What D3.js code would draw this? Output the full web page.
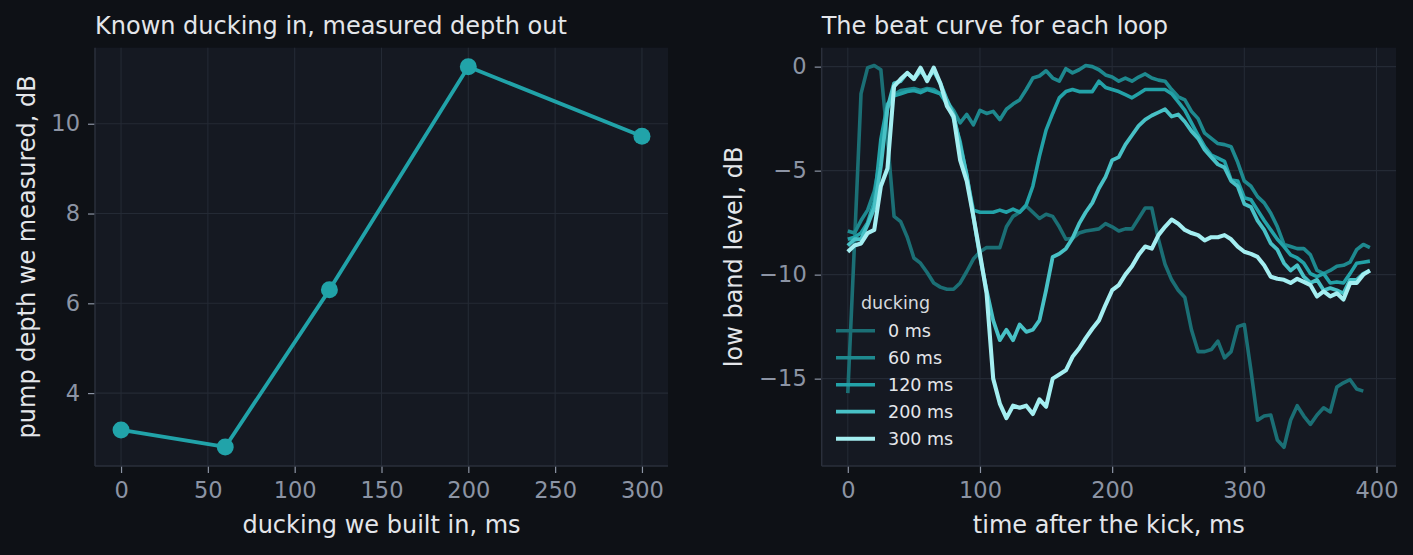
<!DOCTYPE html>
<html>
<head>
<meta charset="utf-8">
<script src="https://d3js.org/d3.v7.min.js"></script>
<style>
    html, body { margin: 0; padding: 0; background: #0e1116; }
    svg { display: block; font-family: "DejaVu Sans", sans-serif; }
</style>
</head>
<body>
<div id="chart"></div>
<script>
// left panel: ducking built in vs measured pump depth
var ducking = [0, 60, 120, 200, 300];
var depth = [3.18, 2.8, 6.3, 11.27, 9.72];

// right panel: time after kick (ms), one curve per loop
var timeMs = d3.range(0, 400, 5);
var loopLabels = ["0 ms", "60 ms", "120 ms", "200 ms", "300 ms"];
var curve0 = [-15.7, -8.6, -1.3, -0.05, 0.05, -0.15, -3.5, -7.2, -7.45, -8.2,
    -9.2, -9.45, -9.9, -10.4, -10.6, -10.7, -10.7, -10.4, -9.85, -9.25,
    -8.9, -8.7, -8.7, -8.7, -7.7, -7.2, -7.0, -6.7, -7.0, -7.3,
    -7.1, -7.2, -7.7, -8.3, -8.25, -8.0, -7.9, -7.85, -7.8, -7.55,
    -7.7, -7.9, -7.8, -7.8, -7.3, -6.8, -6.8, -8.3, -9.5, -10.25,
    -10.75, -11.1, -12.65, -13.7, -13.7, -13.6, -13.2, -14.0, -13.7, -12.5,
    -12.4, -14.6, -17.0, -16.8, -16.75, -17.95, -18.3, -17.0, -16.3, -16.8,
    -17.2, -16.75, -16.4, -16.6, -15.4, -15.2, -15.05, -15.5, -15.6, null];
var curve60 = [-7.9, -8.0, -7.4, -6.9, -6.0, -4.3, -2.0, -1.35, -1.15, -1.1,
    -1.05, -1.15, -1.05, -1.1, -1.3, -1.7, -2.1, -2.7, -2.3, -2.8,
    -2.1, -2.25, -2.15, -2.55, -2.05, -1.8, -1.6, -1.1, -0.55, -0.45,
    -0.2, -0.55, -0.7, -0.1, -0.3, -0.15, 0.05, 0.0, -0.15, -0.4,
    -0.5, -0.7, -0.55, -0.7, -0.5, -0.35, -0.55, -0.65, -0.7, -1.1,
    -1.45, -1.6, -2.15, -2.5, -3.2, -3.45, -3.7, -3.75, -3.85, -4.6,
    -5.5, -5.75, -6.25, -6.55, -7.05, -7.7, -8.55, -8.65, -8.75, -8.75,
    -9.05, -9.8, -9.95, -9.8, -9.6, -9.55, -9.4, -8.8, -8.55, -8.7];
var curve120 = [-8.3, -8.2, -8.0, -7.5, -6.5, -3.5, -1.8, -1.4, -1.3, -1.2,
    -1.15, -1.25, -1.1, -1.2, -1.3, -1.8, -2.5, -3.6, -5.3, -6.9,
    -7.0, -7.0, -7.0, -6.9, -7.0, -6.85, -7.0, -6.65, -5.75, -4.3,
    -3.05, -2.25, -1.5, -1.2, -1.1, -1.2, -1.2, -1.2, -0.7, -1.0,
    -1.1, -1.2, -1.35, -1.5, -1.3, -1.1, -1.1, -1.1, -1.1, -1.3,
    -1.7, -2.1, -2.7, -3.3, -3.85, -4.25, -4.4, -4.55, -5.45, -5.5,
    -6.3, -6.4, -6.9, -7.4, -7.85, -8.3, -8.65, -9.05, -9.2, -9.45,
    -9.95, -10.1, -9.95, -10.4, -10.35, -10.4, -9.95, -9.45, -9.4, -9.35];
var curve200 = [-8.6, -8.3, -8.3, -7.6, -6.8, -4.8, -2.0, -0.8, -0.7, -0.3,
    -0.6, -0.2, -0.6, -0.2, -0.8, -1.6, -2.3, -3.8, -5.2, -7.2,
    -9.15, -10.75, -12.2, -13.15, -12.65, -13.15, -12.4, -12.75, -12.65, -12.2,
    -10.75, -9.15, -9.0, -8.75, -8.25, -7.55, -7.0, -6.55, -5.85, -5.3,
    -4.5, -4.35, -3.75, -3.3, -2.85, -2.55, -2.35, -2.2, -2.05, -2.4,
    -2.3, -2.65, -3.1, -3.45, -4.0, -4.35, -4.7, -4.85, -5.5, -5.75,
    -6.6, -6.75, -7.4, -7.85, -8.5, -8.8, -9.45, -9.8, -9.55, -10.1,
    -10.4, -10.25, -10.75, -10.65, -10.75, -10.9, -10.25, -10.25, -9.95, -9.8];
var curve300 = [-8.9, -8.6, -8.5, -8.0, -7.85, -5.75, -4.9, -0.95, -0.6, -0.3,
    -0.6, -0.05, -0.7, -0.05, -0.8, -1.9, -2.4, -4.5, -5.5, -7.2,
    -9.0, -10.9, -15.0, -16.2, -16.9, -16.3, -16.4, -16.3, -16.7, -16.0,
    -16.35, -15.0, -14.8, -14.6, -13.95, -13.55, -13.05, -12.6, -12.2, -11.45,
    -10.75, -10.5, -10.0, -9.6, -9.05, -8.65, -8.75, -8.1, -7.7, -7.35,
    -7.55, -7.85, -8.0, -8.1, -8.35, -8.2, -8.2, -8.1, -8.3, -8.65,
    -8.9, -9.0, -9.15, -9.55, -10.1, -10.2, -10.25, -10.4, -10.2, -10.35,
    -10.5, -11.05, -10.8, -11.05, -10.9, -11.2, -10.4, -10.4, -10.0, -9.8];
var curves = [curve0, curve60, curve120, curve200, curve300];
var curveColors = ["#1b6f75", "#1e898f", "#23a2a8", "#48c1c6", "#a4eef1"];
var curveWidths = [3.6, 3.6, 3.6, 3.8, 4.1];

var W = 1413, H = 555;
var bgColor = "#0e1116", panelColor = "#151922", gridColor = "#242a35",
    spineColor = "#2a2f3b", tickColor = "#8c94a4", textColor = "#e4e6ea";

var svg = d3.select("#chart").append("svg")
    .attr("width", W).attr("height", H);
svg.append("rect").attr("width", W).attr("height", H).attr("fill", bgColor);

// sets up one axes box, returns the group and scales
function panel(box, xDomain, yDomain, xTicks, yTicks, title, xLabel, yLabel, yLabelX) {
    var w = box.right - box.left, h = box.bottom - box.top;
    var x = d3.scaleLinear().domain(xDomain).range([0, w]);
    var y = d3.scaleLinear().domain(yDomain).range([h, 0]);
    var g = svg.append("g").attr("transform", "translate(" + box.left + "," + box.top + ")");
    g.append("rect").attr("width", w).attr("height", h).attr("fill", panelColor);

    // grid
    g.append("g").selectAll("line").data(xTicks).enter().append("line")
        .attr("x1", function (d) { return x(d); }).attr("x2", function (d) { return x(d); })
        .attr("y1", 0).attr("y2", h)
        .attr("stroke", gridColor).attr("stroke-width", 1.1);
    g.append("g").selectAll("line").data(yTicks).enter().append("line")
        .attr("y1", function (d) { return y(d); }).attr("y2", function (d) { return y(d); })
        .attr("x1", 0).attr("x2", w)
        .attr("stroke", gridColor).attr("stroke-width", 1.1);

    // axes
    var xa = g.append("g").attr("transform", "translate(0," + h + ")")
        .call(d3.axisBottom(x).tickValues(xTicks).tickSize(7).tickPadding(9));
    var ya = g.append("g")
        .call(d3.axisLeft(y).tickValues(yTicks).tickSize(7).tickPadding(8));
    [xa, ya].forEach(function (a) {
        a.select(".domain").remove();
        a.selectAll(".tick line").attr("stroke", tickColor).attr("stroke-width", 1.2);
        a.selectAll(".tick text").attr("fill", tickColor)
            .style("font-size", "22.5px").style("font-family", "DejaVu Sans");
    });

    // left and bottom spines
    g.append("line").attr("x1", 0).attr("x2", 0).attr("y1", 0).attr("y2", h)
        .attr("stroke", spineColor).attr("stroke-width", 1.5);
    g.append("line").attr("x1", 0).attr("x2", w).attr("y1", h).attr("y2", h)
        .attr("stroke", spineColor).attr("stroke-width", 1.5);

    svg.append("text").attr("x", box.left).attr("y", 34)
        .attr("fill", textColor).style("font-size", "24px").text(title);
    svg.append("text").attr("x", box.left + w / 2).attr("y", 533)
        .attr("text-anchor", "middle").attr("fill", textColor)
        .style("font-size", "24px").text(xLabel);
    svg.append("text")
        .attr("transform", "translate(" + yLabelX + "," + (box.top + h / 2) + ") rotate(-90)")
        .attr("text-anchor", "middle").attr("fill", textColor)
        .style("font-size", "24px").text(yLabel);

    return { g: g, x: x, y: y };
}

// ---- left panel
var left = panel({ left: 95, right: 668, top: 47.7, bottom: 466 },
    [-15, 315], [2.376, 11.694],
    [0, 50, 100, 150, 200, 250, 300], [4, 6, 8, 10],
    "Known ducking in, measured depth out",
    "ducking we built in, ms", "pump depth we measured, dB", 35);

var depthPts = ducking.map(function (d, i) { return [d, depth[i]]; });
left.g.append("path")
    .datum(depthPts)
    .attr("fill", "none")
    .attr("stroke", "#21a3a9")
    .attr("stroke-width", 3.8)
    .attr("stroke-linejoin", "round")
    .attr("d", d3.line()
        .x(function (d) { return left.x(d[0]); })
        .y(function (d) { return left.y(d[1]); }));
left.g.selectAll(".dot").data(depthPts).enter().append("circle")
    .attr("class", "dot")
    .attr("cx", function (d) { return left.x(d[0]); })
    .attr("cy", function (d) { return left.y(d[1]); })
    .attr("r", 8.5)
    .attr("fill", "#21a3a9");

// ---- right panel
var right = panel({ left: 821.7, right: 1396, top: 47.7, bottom: 466 },
    [-19.75, 414.75], [-19.2, 0.91],
    [0, 100, 200, 300, 400], [-15, -10, -5, 0],
    "The beat curve for each loop",
    "time after the kick, ms", "low band level, dB", 741.7);

var beatLine = d3.line()
    .defined(function (d) { return d[1] !== null; })
    .x(function (d) { return right.x(d[0]); })
    .y(function (d) { return right.y(d[1]); });

curves.forEach(function (c, k) {
    var pts = timeMs.map(function (t, i) { return [t, c[i]]; });
    right.g.append("path")
        .datum(pts)
        .attr("fill", "none")
        .attr("stroke", curveColors[k])
        .attr("stroke-width", curveWidths[k])
        .attr("stroke-linejoin", "round")
        .attr("d", beatLine);
});

// legend (no frame)
var leg = svg.append("g");
leg.append("text").attr("x", 895.5).attr("y", 303).attr("dy", "0.35em")
    .attr("text-anchor", "middle").attr("fill", "#d6d9de")
    .style("font-size", "17.5px").text("ducking");
loopLabels.forEach(function (lab, k) {
    var yy = 330.7 + 27 * k;
    leg.append("line").attr("x1", 836).attr("x2", 875).attr("y1", yy).attr("y2", yy)
        .attr("stroke", curveColors[k]).attr("stroke-width", curveWidths[k]);
    leg.append("text").attr("x", 888).attr("y", yy).attr("dy", "0.35em")
        .attr("fill", "#e4e6ea").style("font-size", "17.5px").text(lab);
});
</script>
</body>
</html>
